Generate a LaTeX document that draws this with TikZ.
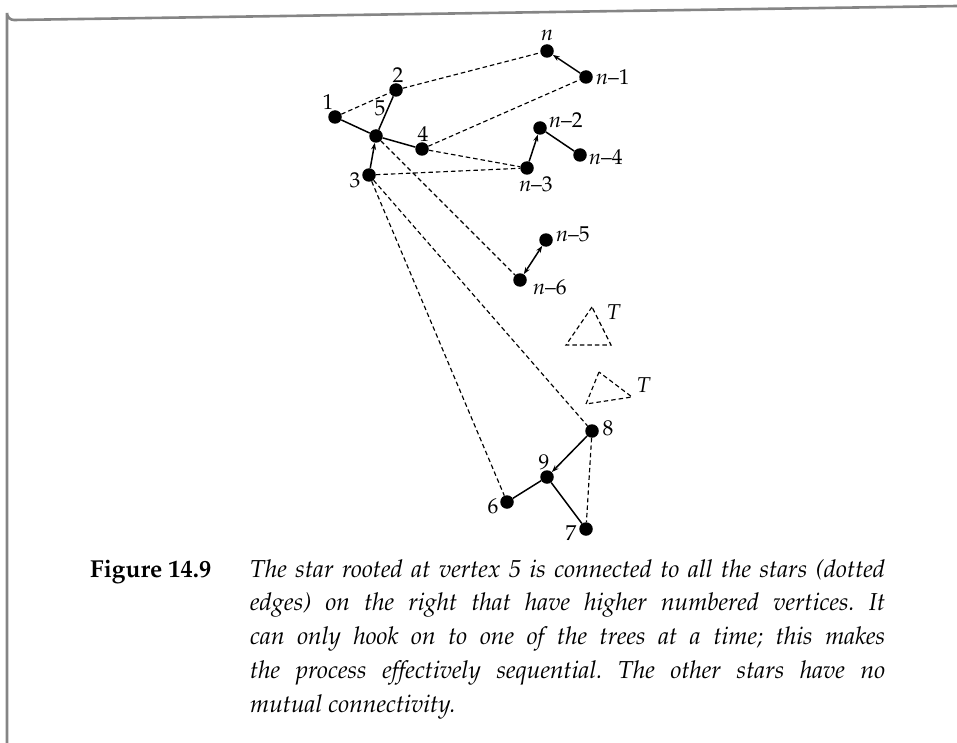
\documentclass[tikz,border=0pt]{standalone}
\usepackage[T1]{fontenc}
\usepackage{mathpazo}
\usetikzlibrary{arrows.meta}
\frenchspacing
\begin{document}
\begin{tikzpicture}[x=1pt,y=-1pt,
  vtx/.style={circle,fill=black,draw=none,minimum size=13.5pt,inner sep=0pt},
  lab/.style={inner sep=0pt,font=\fontsize{21.5}{24}\selectfont},
  sol/.style={line width=1.5pt},
  dsh/.style={line width=1.15pt,dash pattern=on 4.5pt off 3pt},
  arr/.style={sol,-{Stealth[length=7pt,width=5pt]}},
  darr/.style={sol,{Stealth[length=7pt,width=5pt]}-{Stealth[length=7pt,width=5pt]}},
  frame/.style={draw=black!48,line width=2.6pt}]
\useasboundingbox (0,0) rectangle (957,743);
% frame
\draw[frame] (7,743) -- (7,13) arc[start angle=180,end angle=90,radius=7] -- (957,6);
% vertices
\node[vtx] (v1) at (335,117) {};
\node[vtx] (v2) at (396,90) {};
\node[vtx] (v5) at (376,136) {};
\node[vtx] (v4) at (422,149) {};
\node[vtx] (v3) at (369,175) {};
\node[vtx] (vn) at (547,51) {};
\node[vtx] (vn1) at (586,77) {};
\node[vtx] (vn2) at (540,128) {};
\node[vtx] (vn4) at (580,155) {};
\node[vtx] (vn3) at (527,168) {};
\node[vtx] (vn5) at (546,240) {};
\node[vtx] (vn6) at (520,280) {};
\node[vtx] (v8) at (592,431) {};
\node[vtx] (v9) at (547,477) {};
\node[vtx] (v6) at (507,502) {};
\node[vtx] (v7) at (586,529) {};
% labels
\node[lab] (l1) at (328,102) {1};
\node[lab] (l2) at (398,75) {2};
\node[lab] (l5) at (380,108) {5};
\node[lab] (l4) at (423,134) {4};
\node[lab] (l3) at (355,180) {3};
\node[lab] (ln) at (547,35) {\textit{n}};
\node[lab,anchor=west] (ln1) at (596,77) {\textit{n}--1};
\node[lab,anchor=west] (ln2) at (549,120) {\textit{n}--2};
\node[lab,anchor=west] (ln4) at (589,157) {\textit{n}--4};
\node[lab] (ln3) at (536,184) {\textit{n}--3};
\node[lab,anchor=west] (ln5) at (556,234) {\textit{n}--5};
\node[lab,anchor=west] (ln6) at (533,287) {\textit{n}--6};
\node[lab] (l8) at (608,428) {8};
\node[lab] (l9) at (544,462) {9};
\node[lab] (l6) at (493,506) {6};
\node[lab] (l7) at (571,533) {7};
% solid edges
\draw[sol] (v1) -- (v5);
\draw[sol] (v5) -- (v2);
\draw[sol] (v5) -- (v4);
\draw[arr] (v3) -- (v5);
\draw[arr] (vn1) -- (vn);
\draw[arr] (vn3) -- (vn2);
\draw[sol] (vn2) -- (vn4);
\draw[darr] (vn6) -- (vn5);
\draw[arr] (v8) -- (v9);
\draw[sol] (v9) -- (v6);
\draw[sol] (v9) -- (v7);
% dashed edges
\draw[dsh] (v1) -- (v2);
\draw[dsh] (v2) -- (vn);
\draw[dsh] (v4) -- (vn1);
\draw[dsh] (v4) -- (vn3);
\draw[dsh] (v3) -- (vn3);
\draw[dsh] (v5) -- (vn6);
\draw[dsh] (v3) -- (v8);
\draw[dsh] (v3) -- (v6);
\draw[dsh] (v8) -- (v7);
% trees T
\coordinate (ta) at (592,307);
\coordinate (tb) at (566,345);
\coordinate (tc) at (611,345);
\draw[dsh] (ta) -- (tb) -- (tc) -- cycle;
\node[lab] (lt1) at (614,312) {\textit{T}};
\coordinate (ua) at (599,372);
\coordinate (ub) at (586,404);
\coordinate (uc) at (632,397);
\draw[dsh] (ua) -- (ub) -- (uc) -- cycle;
\node[lab] (lt2) at (644,385) {\textit{T}};
% caption
\node[anchor=base west,inner sep=0pt,font=\fontsize{24.5}{33.75}\selectfont\bfseries] (fig) at (90,577) {Figure 14.9};
\node[anchor=base west,inner sep=0pt,text width=635pt,align=justify,font=\fontsize{24.5}{33.75}\selectfont\itshape] (cap) at (250,577)
{The star rooted at vertex 5 is connected to all the stars (dotted\linebreak
edges) on the right that have higher numbered vertices. It\linebreak
can only hook on to one of the trees at a time; this makes\linebreak
the process effectively sequential. The other stars have no\linebreak
mutual connectivity.};
\end{tikzpicture}
\end{document}
